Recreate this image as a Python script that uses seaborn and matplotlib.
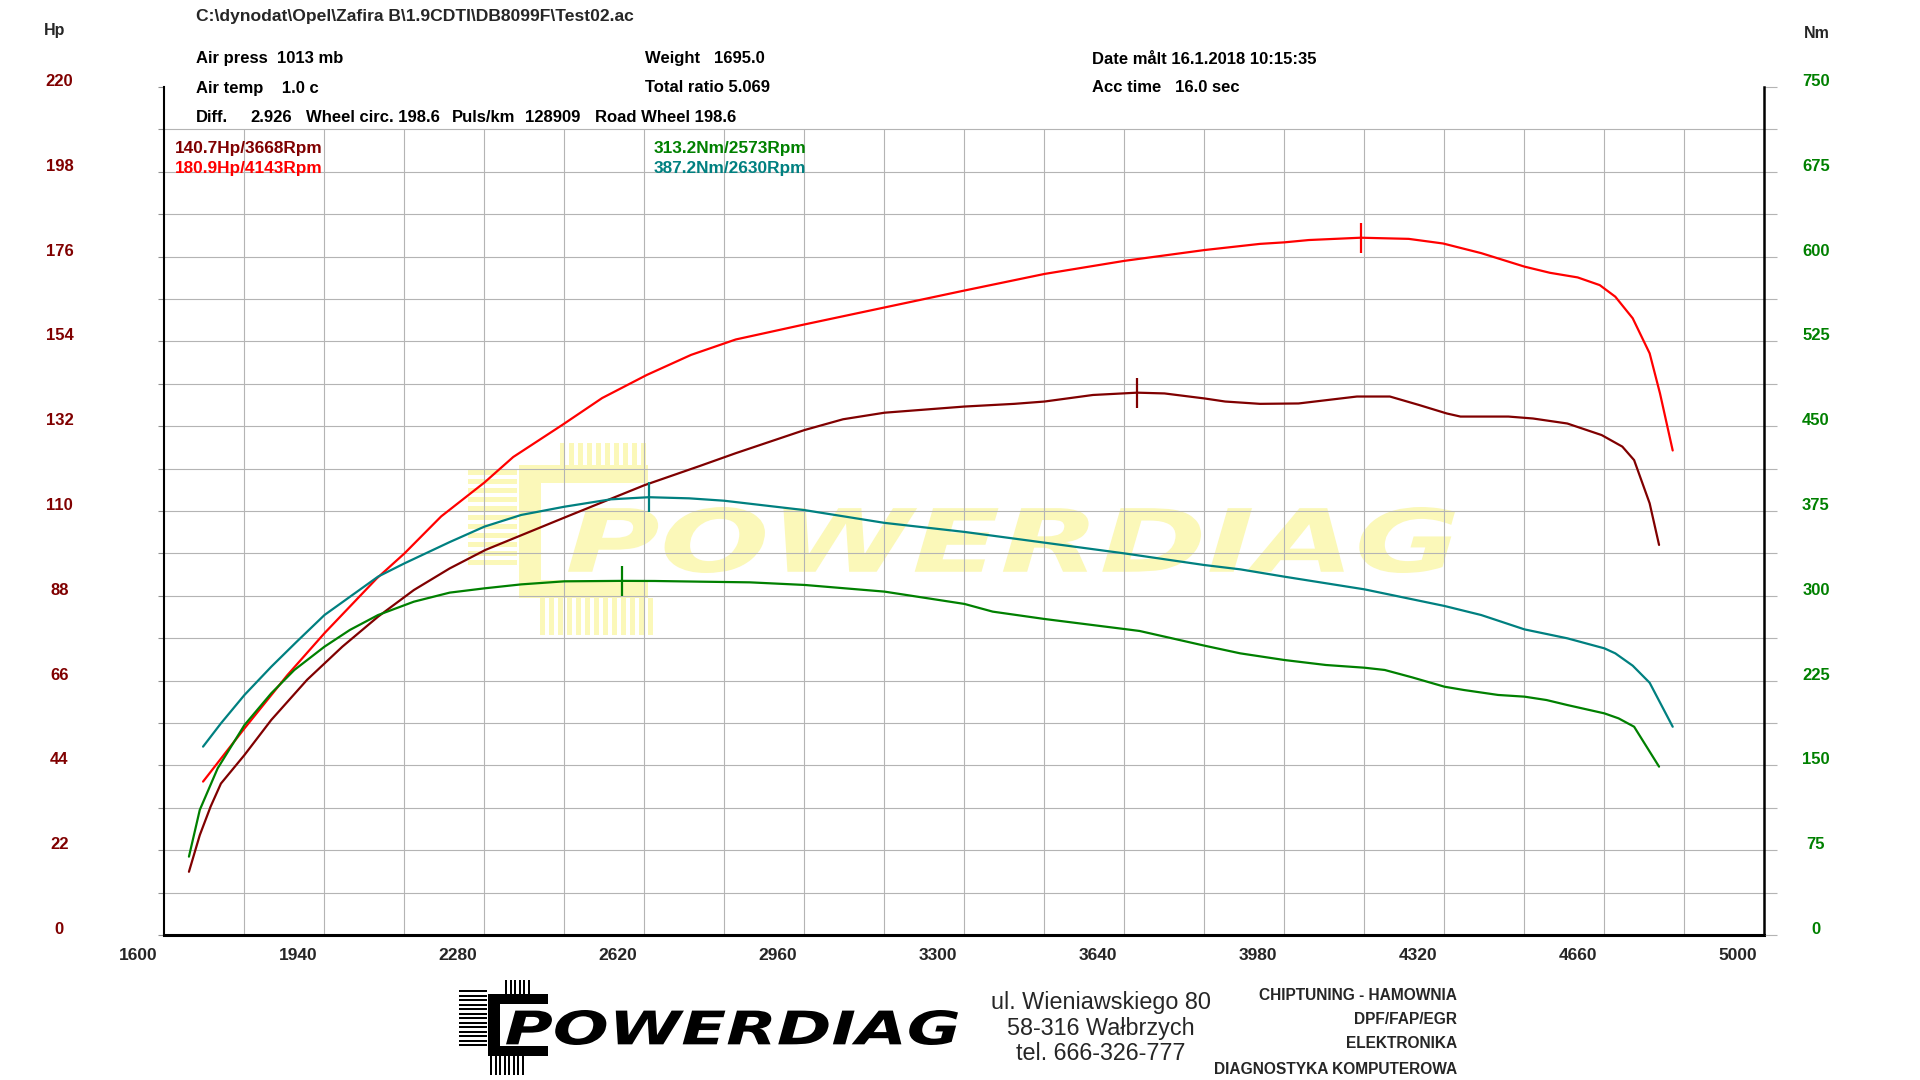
import matplotlib
matplotlib.use("Agg")
import matplotlib.pyplot as plt
import seaborn as sns
import numpy as np
from matplotlib import font_manager
from matplotlib.font_manager import FontProperties
from matplotlib.transforms import Affine2D, ScaledTranslation
from matplotlib.textpath import TextPath
from matplotlib.patches import PathPatch, Rectangle

# power curves (Hp) - dark red and red
hp1_rpm = [1653, 1676, 1699, 1721, 1771, 1828, 1904, 1979, 2055, 2131, 2207, 2283, 2451, 2621, 2739,
           2815, 2961, 3043, 3131, 3301, 3407, 3471, 3574, 3668, 3726, 3811, 3855, 3929, 4011, 4135,
           4205, 4267, 4326, 4355, 4457, 4509, 4582, 4655, 4699, 4724, 4757, 4777]
hp1 = [16.4, 25.9, 33.3, 39.3, 46.7, 55.8, 66.2, 74.8, 82.6, 89.5, 95.1, 99.9, 108.3, 116.7, 121.7,
       125.0, 131.0, 133.8, 135.5, 137.1, 137.8, 138.4, 140.1, 140.7, 140.5, 139.2, 138.4, 137.8, 137.9, 139.7,
       139.7, 137.5, 135.3, 134.5, 134.5, 134.0, 132.7, 129.7, 126.7, 123.2, 112.0, 101.2]

hp2_rpm = [1683, 1771, 1862, 1941, 2052, 2111, 2189, 2281, 2342, 2446, 2531, 2626, 2720, 2815, 2961,
           3131, 3301, 3471, 3641, 3811, 3929, 3981, 4033, 4143, 4245, 4318, 4399, 4491, 4545, 4604,
           4651, 4684, 4721, 4757, 4779, 4806]
hp2 = [39.8, 53.6, 67.4, 78.3, 92.5, 99.0, 108.6, 117.4, 124.0, 132.3, 139.3, 145.3, 150.5, 154.5, 158.4,
       162.8, 167.2, 171.5, 174.9, 177.7, 179.3, 179.7, 180.3, 180.9, 180.6, 179.4, 176.9, 173.4, 171.8, 170.6,
       168.6, 165.6, 160.0, 150.9, 140.5, 125.7]

# torque curves (Nm) - green and teal
nm1_rpm = [1653, 1676, 1714, 1771, 1828, 1877, 1941, 1995, 2055, 2131, 2207, 2281, 2359, 2451, 2573,
           2643, 2739, 2845, 2961, 3131, 3301, 3361, 3471, 3641, 3673, 3811, 3887, 3981, 4069, 4151,
           4194, 4252, 4321, 4362, 4435, 4491, 4538, 4582, 4661, 4691, 4724, 4777]
nm1 = [69.3, 110.6, 147.4, 185.7, 213.8, 234.4, 255.0, 269.8, 283.0, 294.8, 302.8, 306.6, 310.1, 312.8, 313.2,
       313.1, 312.5, 311.9, 309.6, 303.7, 292.8, 286.0, 279.5, 270.6, 268.9, 255.9, 249.1, 243.2, 238.8, 236.4,
       234.4, 227.9, 219.6, 216.7, 212.3, 210.8, 207.8, 203.4, 196.0, 191.6, 184.2, 148.9]

nm2_rpm = [1683, 1721, 1771, 1828, 1881, 1941, 2055, 2111, 2207, 2281, 2359, 2451, 2549, 2630, 2716, 2790,
           2961, 3131, 3301, 3471, 3641, 3811, 3887, 3981, 4151, 4321, 4399, 4491, 4582, 4661,
           4684, 4721, 4757, 4806]
nm2 = [166.6, 187.2, 212.3, 237.3, 259.0, 283.0, 317.0, 328.7, 347.5, 361.2, 371.5, 378.8, 385.3, 387.2, 386.2, 384.1,
       375.8, 364.5, 356.5, 347.0, 337.5, 327.2, 323.4, 316.9, 305.7, 291.0, 283.0, 270.3, 262.4, 253.5,
       249.1, 238.2, 223.1, 184.2]

# peaks (rpm, value) and their captions
peak_hp1 = (3668, 140.7)
peak_hp2 = (4143, 180.9)
peak_nm1 = (2573, 313.2)
peak_nm2 = (2630, 387.2)

x_ticks = list(range(1600, 5001, 340))
hp_ticks = list(range(0, 221, 22))
nm_ticks = list(range(0, 751, 75))

c_hp1, c_hp2 = "#800000", "#ff0000"
c_nm1, c_nm2 = "#008000", "#008080"

sns.set_style("white")
plt.rcParams["font.family"] = ["Liberation Sans", "DejaVu Sans"]
names = {f.name for f in font_manager.fontManager.ttflist}
narrow = "Liberation Sans Narrow" if "Liberation Sans Narrow" in names else "Liberation Sans"

fig = plt.figure(figsize=(19.2, 10.8), dpi=100)
ax = fig.add_axes([164 / 1920, 145 / 1080, 1600 / 1920, 848 / 1080])
ax2 = ax.twinx()
px = Affine2D().scale(1 / 1920, 1 / 1080) + fig.transFigure


def logo(x0, y0, x1, y1, color, zorder, target):
    # stretched italic word inside a pixel box (top-left origin)
    tp = TextPath((0, 0), "POWERDIAG", size=100,
                  prop=FontProperties(family="DejaVu Sans", weight="bold", style="italic"))
    bb = tp.get_extents()
    tr = (Affine2D().translate(-bb.x0, -bb.y0)
          .scale((x1 - x0) / bb.width, (y1 - y0) / bb.height)
          .translate(x0, 1080 - y1)) + px
    p = PathPatch(tp, facecolor=color, edgecolor="none", transform=tr, zorder=zorder)
    target.add_artist(p) if target is fig else target.add_patch(p)


def box(x0, y0, x1, y1, color, zorder, target):
    r = Rectangle((x0, 1080 - y1), x1 - x0, y1 - y0, facecolor=color, edgecolor="none",
                  transform=px, zorder=zorder)
    target.add_artist(r) if target is fig else target.add_patch(r)


def bracket(cx0, cy0, cx1, cy1, t, fins, color, zorder, target):
    box(cx0, cy0, cx0 + t, cy1, color, zorder, target)
    box(cx0, cy0, cx1, cy0 + t * 0.8, color, zorder, target)
    box(cx0, cy1 - t * 0.8, cx1, cy1, color, zorder, target)
    (tx0, tx1, ty0, ty1), (lx0, lx1, ly0, ly1), (bx0, bx1, by0, by1), step = fins
    for x in np.arange(tx0, tx1, step):
        box(x, ty0, x + step * 0.55, ty1, color, zorder, target)
    for y in np.arange(ly0, ly1, step):
        box(lx0, y, lx1, y + step * 0.55, color, zorder, target)
    for x in np.arange(bx0, bx1, step):
        box(x, by0, x + step * 0.55, by1, color, zorder, target)


# watermark behind the grid
wm = "#fbf8b9"
bracket(519, 465, 648, 598, 22, ((560, 650, 443, 465), (468, 517, 470, 566), (540, 652, 598, 635), 9),
        wm, 0.5, ax)
logo(568, 507, 1455, 573, wm, 0.5, ax)

# grid
ax.hlines(np.arange(11, 210, 11), 1600, 5000, color="#b4b4b4", lw=0.8, zorder=1)
ax.vlines(np.arange(1770, 5000, 170), 0, 209, color="#b4b4b4", lw=0.8, zorder=1)

# curves
sns.lineplot(x=hp2_rpm, y=hp2, ax=ax, color=c_hp2, linewidth=1.6, zorder=3)
sns.lineplot(x=hp1_rpm, y=hp1, ax=ax, color=c_hp1, linewidth=1.6, zorder=3)
sns.lineplot(x=nm2_rpm, y=nm2, ax=ax2, color=c_nm2, linewidth=1.6, zorder=3)
sns.lineplot(x=nm1_rpm, y=nm1, ax=ax2, color=c_nm1, linewidth=1.6, zorder=3)
for a, (r, v), c in [(ax, peak_hp1, c_hp1), (ax, peak_hp2, c_hp2), (ax2, peak_nm1, c_nm1), (ax2, peak_nm2, c_nm2)]:
    a.plot([r], [v], marker="|", ms=22, mew=1.6, color=c, zorder=4)

ax.set_xlim(1600, 5000)
ax.set_ylim(0, 220)
ax2.set_ylim(0, 750)
for a in (ax, ax2):
    a.set_xlabel("")
    a.set_ylabel("")

# x axis
ax.set_xticks(x_ticks)
ax.set_xticklabels([str(v) for v in x_ticks])
ax.set_xticks(np.arange(1600, 5001, 170), minor=True)
ax.tick_params(axis="x", which="both", direction="out", length=7.2, width=0.8, color="black",
               pad=2.5, labelsize=12.5)
for t in ax.xaxis.get_major_ticks():
    t.label1.set_fontweight("bold")
    t.label1.set_horizontalalignment("right")
    t.label1.set_transform(t.label1.get_transform() + ScaledTranslation(-0.07, 0, fig.dpi_scale_trans))

# left Hp axis
ax.set_yticks(hp_ticks)
ax.set_yticklabels([str(v) for v in hp_ticks])
ax.set_yticks(np.arange(0, 210, 11), minor=True)
ax.tick_params(axis="y", which="both", direction="out", length=4.3, width=0.8, color="#909090",
               pad=71, labelsize=12, labelcolor=c_hp1)
for t in ax.yaxis.get_major_ticks():
    t.label1.set_fontweight("bold")
    t.label1.set_horizontalalignment("center")
    t.label1.set_transform(t.label1.get_transform() + ScaledTranslation(0, 0.07, fig.dpi_scale_trans))

# right Nm axis
ax2.set_yticks(nm_ticks)
ax2.set_yticklabels([str(v) for v in nm_ticks])
ax2.set_yticks(np.arange(0, 713, 37.5), minor=True)
ax2.tick_params(axis="y", which="both", direction="out", length=9.4, width=0.8, color="#b4b4b4",
                pad=28, labelsize=12, labelcolor=c_nm1)
for t in ax2.yaxis.get_major_ticks():
    t.label2.set_fontweight("bold")
    t.label2.set_horizontalalignment("center")
    t.label2.set_transform(t.label2.get_transform() + ScaledTranslation(0, 0.07, fig.dpi_scale_trans))

for s in ("top", "right"):
    ax.spines[s].set_visible(False)
for s in ("top", "left", "bottom"):
    ax2.spines[s].set_visible(False)
ax.spines["left"].set_linewidth(1.5)
ax.spines["bottom"].set_linewidth(2.2)
ax2.spines["right"].set_linewidth(1.8)
for sp in list(ax.spines.values()) + list(ax2.spines.values()):
    sp.set_color("black")


def ftext(x, y, s, **kw):
    kw.setdefault("va", "center")
    fig.text(x / 1920, 1 - y / 1080, s, **kw)


# header
hdr = dict(fontsize=12, fontweight="bold", color="black")
ftext(196, 17, r"C:\dynodat\Opel\Zafira B\1.9CDTI\DB8099F\Test02.ac", fontsize=12.6, fontweight="bold")
ftext(196, 59, "Air press  1013 mb", **hdr)
ftext(196, 88, "Air temp    1.0 c", **hdr)
ftext(196, 117, "Diff.", **hdr)
ftext(250, 117, "2.926", **hdr)
ftext(306, 117, "Wheel circ. 198.6", **hdr)
ftext(452, 117, "Puls/km", **hdr)
ftext(525, 117, "128909", **hdr)
ftext(595, 117, "Road Wheel 198.6", **hdr)
ftext(645, 59, "Weight   1695.0", **hdr)
ftext(645, 88, "Total ratio 5.069", **hdr)
ftext(1092, 59, "Date målt 16.1.2018 10:15:35", **hdr)
ftext(1092, 88, "Acc time   16.0 sec", **hdr)
ftext(55, 30, "Hp", ha="center", fontsize=11.5, fontweight="bold")
ftext(1817, 33, "Nm", ha="center", fontsize=11.5, fontweight="bold")

# peak captions
cap = dict(fontsize=12.4, fontweight="bold")
ftext(175, 149, f"{peak_hp1[1]}Hp/{peak_hp1[0]}Rpm", color=c_hp1, **cap)
ftext(175, 169, f"{peak_hp2[1]}Hp/{peak_hp2[0]}Rpm", color=c_hp2, **cap)
ftext(654, 149, f"{peak_nm1[1]}Nm/{peak_nm1[0]}Rpm", color=c_nm1, **cap)
ftext(654, 169, f"{peak_nm2[1]}Nm/{peak_nm2[0]}Rpm", color=c_nm2, **cap)

# footer
bracket(488, 994, 548, 1056, 12, ((505, 528, 980, 994), (459, 487, 990, 1048), (490, 524, 1056, 1075), 4.5),
        "black", 2, fig)
logo(506, 1010, 958, 1045, "black", 2, fig)
ftext(1101, 1003, "ul. Wieniawskiego 80", ha="center", fontsize=16.8)
ftext(1101, 1028, "58-316 Wałbrzych", ha="center", fontsize=16.8)
ftext(1101, 1053, "tel. 666-326-777", ha="center", fontsize=16.8)
rb = dict(ha="right", fontweight="bold", family=[narrow, "DejaVu Sans"],
          fontsize=13.4 if narrow != "Liberation Sans" else 11.2)
ftext(1457, 995, "CHIPTUNING - HAMOWNIA", **rb)
ftext(1457, 1020, "DPF/FAP/EGR", **rb)
ftext(1457, 1044, "ELEKTRONIKA", **rb)
ftext(1457, 1069, "DIAGNOSTYKA KOMPUTEROWA", **rb)

fig.savefig("out.png", dpi=100, facecolor="white")
